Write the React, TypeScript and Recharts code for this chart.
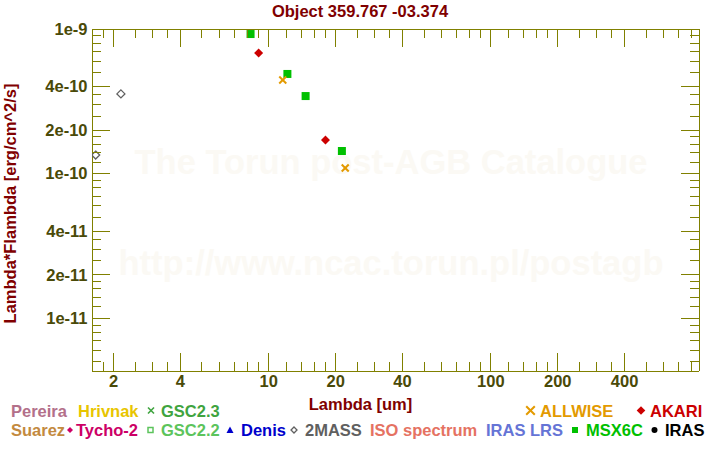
import { ScatterChart, Scatter, XAxis, YAxis } from 'recharts';

// photometry (lambda in um, lambda*F_lambda in erg/cm^2/s)
const msxLambda = [8.28, 12.13, 14.65, 21.34];
const msxFlux = [9.23e-10, 4.89e-10, 3.44e-10, 1.435e-10];
const akariLambda = [9, 18];
const akariFlux = [6.82e-10, 1.71e-10];
const allwiseLambda = [11.56, 22.09];
const allwiseFlux = [4.44e-10, 1.094e-10];
const tmassLambda = [1.662, 2.159];
const tmassFlux = [1.345e-10, 3.56e-10];

const xDomain = [1.6, 865];
const yDomain = [4.33e-12, 1e-9];
const xMajorTicks = [2, 4, 10, 20, 40, 100, 200, 400];
const xMinorTicks = [
  1.8, 2.5, 3, 3.5, 5, 6, 7, 8, 9, 12, 14, 16, 18, 25, 30, 35, 50, 60, 70, 80, 90,
  120, 140, 160, 180, 250, 300, 350, 500, 600, 700, 800,
];
const yMajorTicks = [1e-11, 2e-11, 4e-11, 1e-10, 2e-10, 4e-10, 1e-9];
const yMinorTicks = [
  5e-12, 6e-12, 7e-12, 8e-12, 9e-12, 1.2e-11, 1.4e-11, 1.6e-11, 1.8e-11, 2.5e-11, 3e-11, 3.5e-11,
  5e-11, 6e-11, 7e-11, 8e-11, 9e-11, 1.2e-10, 1.4e-10, 1.6e-10, 1.8e-10, 2.5e-10, 3e-10, 3.5e-10,
  5e-10, 6e-10, 7e-10, 8e-10, 9e-10,
];

const legendNames = [
  'Pereira', 'Hrivnak', 'GSC2.3', 'ALLWISE', 'AKARI',
  'Suarez', 'Tycho-2', 'GSC2.2', 'Denis', '2MASS', 'ISO spectrum', 'IRAS LRS', 'MSX6C', 'IRAS',
];
const legendColors = [
  '#b3708a', '#e8c500', '#3fa43f', '#e39a00', '#cc0000',
  '#c38a3f', '#cc0066', '#5cc45c', '#0000cc', '#606060', '#e57262', '#6574d6', '#00c000', '#000000',
];
const legendSymbols = [
  '', '', 'cross', 'cross', 'diamond',
  '', 'diamond', 'openSquare', 'triangle', 'openDiamond', '', '', 'square', 'circle',
];

// layout of the legend: [row, symbol centre x, text x]
const legendLayout = [
  [0, 0, 11], [0, 0, 78], [0, 151, 161], [0, 530.5, 540], [0, 641, 650],
  [1, 0, 11], [1, 70, 76], [1, 150.5, 161], [1, 230, 241], [1, 294, 305],
  [1, 0, 370], [1, 0, 486], [1, 575, 586], [1, 654.5, 665],
];

const AXIS = '#808000';
const TICK_TEXT = '#4a4a08';
const DARK_RED = '#800000';
const FONT = '"Liberation Sans", Arial, sans-serif';
const FS = 16.5;
const PLOT = { left: 92, top: 29, right: 699, bottom: 371 };

const toPoints = (xs: number[], ys: number[]) => xs.map((x, i) => ({ x, y: ys[i] }));
const isMajor = (list: number[], v: number) => list.some(m => Math.abs(m - v) / m < 1e-6);
const allX = [...xMajorTicks, ...xMinorTicks].sort((a, b) => a - b);
const allY = [...yMajorTicks, ...yMinorTicks].sort((a, b) => a - b);

const tickFont = { fontFamily: FONT, fontWeight: 700, fontSize: FS, fill: TICK_TEXT };

const BottomTick = ({ x, y, payload }: any) => {
  const major = isMajor(xMajorTicks, payload.value);
  return (
    <g>
      <line x1={x} x2={x} y1={y} y2={y - (major ? 18 : 9)} stroke={AXIS} shapeRendering="crispEdges" />
      {major && <text x={x} y={y + 15.5} textAnchor="middle" {...tickFont}>{payload.value}</text>}
    </g>
  );
};

const TopTick = ({ x, y, payload }: any) => {
  const major = isMajor(xMajorTicks, payload.value);
  return <line x1={x} x2={x} y1={y} y2={y + (major ? 18 : 9)} stroke={AXIS} shapeRendering="crispEdges" />;
};

const LeftTick = ({ x, y, payload }: any) => {
  const major = isMajor(yMajorTicks, payload.value);
  return (
    <g>
      <line x1={x} x2={x + (major ? 18 : 9)} y1={y} y2={y} stroke={AXIS} shapeRendering="crispEdges" />
      {major && (
        <text x={x - 4.5} y={y + 5.7} textAnchor="end" {...tickFont}>
          {Number(payload.value).toExponential(0)}
        </text>
      )}
    </g>
  );
};

const RightTick = ({ x, y, payload }: any) => {
  const major = isMajor(yMajorTicks, payload.value);
  return <line x1={x} x2={x - (major ? 18 : 9)} y1={y} y2={y} stroke={AXIS} shapeRendering="crispEdges" />;
};

const Square = ({ cx, cy }: any) => <rect x={cx - 4} y={cy - 4} width={8} height={8} fill="#00c000" />;
const RedDiamond = ({ cx, cy }: any) => (
  <polygon points={`${cx},${cy - 4.5} ${cx + 4.5},${cy} ${cx},${cy + 4.5} ${cx - 4.5},${cy}`} fill="#cc0000" />
);
const OpenDiamond = ({ cx, cy }: any) => (
  <polygon points={`${cx},${cy - 4} ${cx + 4},${cy} ${cx},${cy + 4} ${cx - 4},${cy}`} fill="none" stroke="#606060" strokeWidth={1.3} />
);
const Cross = ({ cx, cy }: any) => (
  <g stroke="#e39a00" strokeWidth={2}>
    <line x1={cx - 3.5} y1={cy - 3.5} x2={cx + 3.5} y2={cy + 3.5} />
    <line x1={cx - 3.5} y1={cy + 3.5} x2={cx + 3.5} y2={cy - 3.5} />
  </g>
);

function LegendSymbol({ kind, x, y, color, big }: any) {
  const s = big ? 4.3 : 3;
  if (kind === 'cross')
    return (
      <g stroke={color} strokeWidth={big ? 2 : 1.6}>
        <line x1={x - s} y1={y - s} x2={x + s} y2={y + s} />
        <line x1={x - s} y1={y + s} x2={x + s} y2={y - s} />
      </g>
    );
  if (kind === 'diamond')
    return <polygon points={`${x},${y - s} ${x + s},${y} ${x},${y + s} ${x - s},${y}`} fill={color} />;
  if (kind === 'openDiamond')
    return <polygon points={`${x},${y - s} ${x + s},${y} ${x},${y + s} ${x - s},${y}`} fill="none" stroke={color} strokeWidth={1.3} />;
  if (kind === 'openSquare')
    return <rect x={x - 2.5} y={y - 2.5} width={5} height={5} fill="none" stroke={color} strokeWidth={1.5} />;
  if (kind === 'square') return <rect x={x - 3} y={y - 3} width={6} height={6} fill={color} />;
  if (kind === 'triangle')
    return <polygon points={`${x},${y - 3.5} ${x + 3.5},${y + 3} ${x - 3.5},${y + 3}`} fill={color} />;
  if (kind === 'circle') return <circle cx={x} cy={y} r={3} fill={color} />;
  return null;
}

export default function App() {
  const rowText = [416.5, 435.5];
  const rowSym = [410.5, 430];
  return (
    <div style={{ position: 'relative', width: 720, height: 450, background: '#fff' }}>
      <style>{'body{margin:0}'}</style>
      <svg width={720} height={450} style={{ position: 'absolute', left: 0, top: 0 }}>
        <g fontFamily={FONT} fontWeight={700} fontSize={34.5} fill="#fbf9f4" textAnchor="middle">
          <text x={391} y={174}>The Torun post-AGB Catalogue</text>
          <text x={391} y={275}>http://www.ncac.torun.pl/postagb</text>
        </g>
        <g fontFamily={FONT} fontWeight={700} fontSize={FS} fill={DARK_RED}>
          <text x={360} y={17} textAnchor="middle">Object 359.767 -03.374</text>
          <text x={360.5} y={409.5} textAnchor="middle">Lambda [um]</text>
          <text transform="translate(15.7,203.5) rotate(-90)" textAnchor="middle">Lambda*Flambda [erg/cm^2/s]</text>
        </g>
        <g fontFamily={FONT} fontWeight={700} fontSize={FS}>
          {legendNames.map((name, i) => {
            const [row, sx, tx] = legendLayout[i];
            const big = name === 'ALLWISE' || name === 'AKARI';
            return (
              <g key={name}>
                <LegendSymbol kind={legendSymbols[i]} x={sx} y={rowSym[row]} color={legendColors[i]} big={big} />
                <text x={tx} y={rowText[row]} fill={legendColors[i]}>{name}</text>
              </g>
            );
          })}
        </g>
      </svg>
      <div style={{ position: 'absolute', left: 0, top: 0 }}>
        <ScatterChart
          width={720}
          height={450}
          margin={{ top: PLOT.top - 10, right: 720 - PLOT.right - 10, bottom: 450 - PLOT.bottom - 30, left: PLOT.left - 60 }}
        >
          <XAxis
            xAxisId={0} dataKey="x" type="number" scale="log" domain={xDomain} allowDataOverflow
            ticks={allX} interval={0} height={30} tickSize={0} tickMargin={0} tickLine={false}
            axisLine={{ stroke: AXIS, shapeRendering: 'crispEdges' }} tick={(p: any) => <BottomTick {...p} />}
          />
          <XAxis
            xAxisId="top" orientation="top" dataKey="x" type="number" scale="log" domain={xDomain} allowDataOverflow
            ticks={allX} interval={0} height={10} tickSize={0} tickMargin={0} tickLine={false}
            axisLine={{ stroke: AXIS, shapeRendering: 'crispEdges' }} tick={(p: any) => <TopTick {...p} />}
          />
          <YAxis
            yAxisId={0} dataKey="y" type="number" scale="log" domain={yDomain} allowDataOverflow
            ticks={allY} interval={0} width={60} tickSize={0} tickMargin={0} tickLine={false}
            axisLine={{ stroke: AXIS, shapeRendering: 'crispEdges' }} tick={(p: any) => <LeftTick {...p} />}
          />
          <YAxis
            yAxisId="right" orientation="right" dataKey="y" type="number" scale="log" domain={yDomain} allowDataOverflow
            ticks={allY} interval={0} width={10} tickSize={0} tickMargin={0} tickLine={false}
            axisLine={{ stroke: AXIS, shapeRendering: 'crispEdges' }} tick={(p: any) => <RightTick {...p} />}
          />
          <Scatter data={toPoints(tmassLambda, tmassFlux)} shape={(p: any) => <OpenDiamond {...p} />} isAnimationActive={false} />
          <Scatter data={toPoints(msxLambda, msxFlux)} shape={(p: any) => <Square {...p} />} isAnimationActive={false} />
          <Scatter data={toPoints(akariLambda, akariFlux)} shape={(p: any) => <RedDiamond {...p} />} isAnimationActive={false} />
          <Scatter data={toPoints(allwiseLambda, allwiseFlux)} shape={(p: any) => <Cross {...p} />} isAnimationActive={false} />
        </ScatterChart>
      </div>
    </div>
  );
}
